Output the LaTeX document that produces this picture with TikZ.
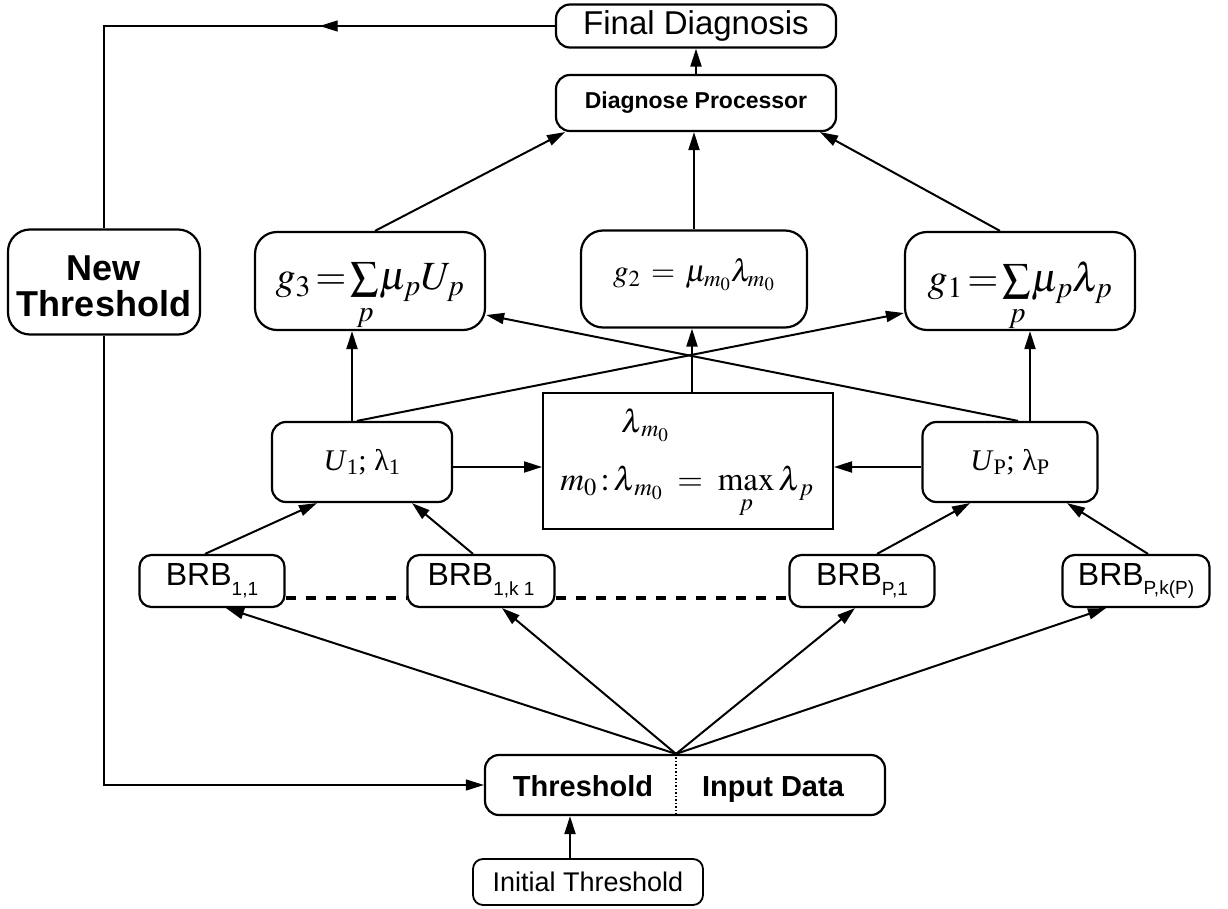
\documentclass[tikz,border=0pt]{standalone}
\usepackage{mathptmx}
\usepackage[no-math]{fontspec}
\setmainfont{Liberation Sans}
\newfontfamily\tnr{Liberation Serif}
\usetikzlibrary{arrows.meta,decorations.markings}
\newcommand\bsub[1]{\raisebox{-0.3em}{\fontsize{19}{20}\selectfont #1}}
\begin{document}
\begin{tikzpicture}[x=1pt,y=-1pt,
  box/.style={draw, line width=2.2pt, rounded corners=14pt, inner sep=0pt, align=center},
  sqbox/.style={draw, line width=2pt, inner sep=0pt},
  tip/.style={-{Triangle[length=18pt,width=11pt]}},
  arr/.style={line width=2pt, tip},
  fb/.style={line width=1.2pt},
  plain/.style={inner sep=0pt},
]
\useasboundingbox (0,0) rectangle (1228,909);

% top
\node[box, minimum width=280, minimum height=43, font={\fontsize{33}{38}\selectfont}] (fd) at (696,26) {Final Diagnosis};
\node[box, minimum width=280, minimum height=56, font={\bfseries\fontsize{23}{28}\selectfont}] (dp) at (696,103) {Diagnose Processor};
\node[box, minimum width=192, minimum height=105, rounded corners=22pt] (nt) at (104,282) {};
\node[plain, align=center, font={\bfseries\fontsize{36}{36}\selectfont}] (ntt) at ([yshift=-4]nt.center) {New\\Threshold};

% g boxes
\node[box, minimum width=230, minimum height=98, rounded corners=22pt] (g3) at (370,281) {};
\node[plain, font={\fontsize{40}{44}\selectfont}] (f3) at ([yshift=-16]g3.center) {$g_3\,{=}\sum\limits_p\!\mu_pU_p$};
\node[box, minimum width=226, minimum height=97, rounded corners=22pt] (g2) at (694,279) {};
\node[plain, font={\fontsize{31}{34}\selectfont}] (f2) at ([yshift=4]g2.center) {$g_2\,=\,\mu_{m_0}\lambda_{m_0}$};
\node[box, minimum width=230, minimum height=98, rounded corners=22pt] (g1) at (1020,281) {};
\node[plain, font={\fontsize{40}{44}\selectfont}] (f1) at ([yshift=-16]g1.center) {$g_1\,{=}\sum\limits_p\!\mu_p\lambda_p$};

% max box
\node[sqbox, minimum width=290, minimum height=136] (mb) at (688,461) {};
\node[plain, font={\fontsize{32}{36}\selectfont}] (lm) at (645,425) {$\lambda_{\,m_0}$};
\node[plain, font={\fontsize{33}{38}\selectfont}] (mx) at (687,492) {$m_0\!:\!\lambda_{\,m_0}\;=\;\max\limits_p\lambda_{\,p}$};

% U boxes
\node[box, minimum width=180, minimum height=80, font={\tnr\fontsize{30}{34}\selectfont}] (u1) at (362,462) {\textit{U}\textsubscript{1}; λ\textsubscript{1}};
\node[box, minimum width=175, minimum height=80, font={\tnr\fontsize{30}{34}\selectfont}] (up) at (1010,462) {\textit{U}\textsubscript{P}; λ\textsubscript{P}};

% BRB boxes
\node[box, minimum width=145, minimum height=52, rounded corners=12pt, font={\fontsize{32}{36}\selectfont}] (b11) at (212,581) {BRB\bsub{1,1}};
\node[box, minimum width=147, minimum height=52, rounded corners=12pt, font={\fontsize{32}{36}\selectfont}] (b1k) at (481,581) {BRB\bsub{1,k 1}};
\node[box, minimum width=145, minimum height=52, rounded corners=12pt, font={\fontsize{32}{36}\selectfont}] (bp1) at (862,581) {BRB\bsub{P,1}};
\node[box, minimum width=147, minimum height=52, rounded corners=12pt, font={\fontsize{32}{36}\selectfont}] (bpk) at (1136,581) {BRB\bsub{P,k(P)}};

% threshold / input box
\node[box, minimum width=400, minimum height=60] (ti) at (685,785) {};
\node[plain, anchor=base, font={\bfseries\fontsize{29}{32}\selectfont}] (th) at (583,796) {Threshold};
\node[plain, anchor=base, font={\bfseries\fontsize{29}{32}\selectfont}] (id) at (773,796) {Input Data};
\coordinate (hub) at ([xshift=-9]ti.north);
\draw[dotted, line width=1.5pt] (hub) -- (hub |- ti.south);

\node[box, line width=1.8pt, minimum width=230, minimum height=46, rounded corners=10pt, font={\fontsize{27}{32}\selectfont}] (it) at (588,882) {Initial Threshold};

% connectors top
\draw[arr] (dp) -- (fd);
\draw[fb, postaction={decorate}, decoration={markings, mark=at position 0.36 with {\arrow{Triangle[length=18pt,width=11pt]}}}] (fd.west) -- (nt.north |- fd.west) -- (nt.north);
\draw[fb, tip] (nt.south) -- (nt.south |- ti.west) -- (ti.west);

\draw[arr] ([xshift=5]g3.north) -- ([xshift=-131]dp.south);
\draw[arr] (g2.north) -- (g2.north |- dp.south);
\draw[arr] ([xshift=-20]g1.north) -- ([xshift=124]dp.south);

\draw[arr] ([xshift=-10]u1.north) -- ([xshift=-10]u1.north |- g3.south);
\draw[arr] ([xshift=-5]u1.north) -- ([yshift=-32]g1.west);
\draw[arr] ([xshift=20]up.north) -- ([xshift=20]up.north |- g1.south);
\draw[arr] ([xshift=8]up.north) -- ([yshift=-34]g3.east);
\draw[arr] ([xshift=4]mb.north) -- ([xshift=4]mb.north |- g2.south);

\draw[arr] ([yshift=-5]u1.east) -- ([yshift=-5]u1.east -| mb.west);
\draw[arr] ([yshift=-5]up.west) -- ([yshift=-5]up.west -| mb.east);

\draw[arr] ([xshift=-7]b11.north) -- ([xshift=-45]u1.south);
\draw[arr] ([xshift=-8]b1k.north) -- ([xshift=50]u1.south);
\draw[arr] ([xshift=15]bp1.north) -- ([xshift=-40]up.south);
\draw[arr] ([xshift=12]bpk.north) -- ([xshift=57]up.south);

\draw[line width=4pt, dash pattern=on 10pt off 10pt] ([yshift=-17]b11.east) -- ([yshift=-17]b1k.west);
\draw[line width=4pt, dash pattern=on 10pt off 10pt] ([yshift=-17]b1k.east) -- ([yshift=-17]bp1.west);

\draw[arr] (hub) -- ([xshift=14]b11.south);
\draw[arr] (hub) -- ([xshift=21]b1k.south);
\draw[arr] (hub) -- ([xshift=-7]bp1.south);
\draw[arr] (hub) -- ([xshift=-30]bpk.south);

\draw[arr] ([xshift=-18]it.north) -- ([xshift=-18]it.north |- ti.south);
\end{tikzpicture}
\end{document}
